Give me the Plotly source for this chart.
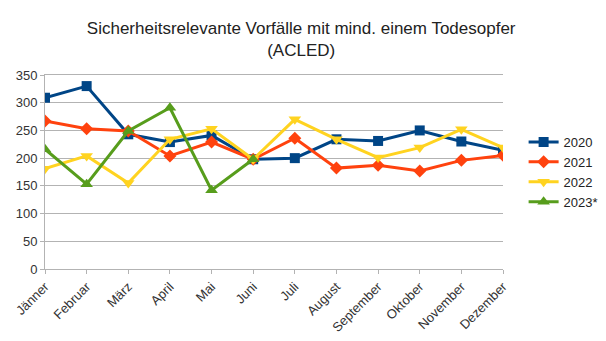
import plotly.graph_objects as go

months = ["Jänner", "Februar", "März", "April", "Mai", "Juni", "Juli",
          "August", "September", "Oktober", "November", "Dezember"]
y2020 = [309, 330, 243, 229, 241, 198, 200, 234, 231, 250, 230, 214]
y2021 = [267, 253, 249, 204, 229, 198, 236, 182, 187, 177, 196, 205]
y2022 = [181, 204, 155, 234, 253, 198, 270, 234, 201, 219, 252, 219]
y2023 = [216, 153, 249, 291, 142, 198]

series = [
    ("2020", y2020, "#004586", "square", 10),
    ("2021", y2021, "#ff420e", "diamond", 10),
    ("2022", y2022, "#ffd320", "triangle-down", 11),
    ("2023*", y2023, "#579d1c", "triangle-up", 11),
]

fig = go.Figure()
for name, ys, color, sym, sz in series:
    fig.add_trace(go.Scatter(
        x=months[:len(ys)], y=ys, name=name, mode="lines+markers",
        line=dict(color=color, width=3),
        marker=dict(symbol=sym, size=sz, color=color),
    ))

fig.update_layout(
    width=606, height=341,
    margin=dict(l=45, r=103, t=75, b=72, autoexpand=False),
    paper_bgcolor="white", plot_bgcolor="white",
    font=dict(family="Liberation Sans, Arial, sans-serif", color="#333333", size=12),
    title=dict(text="Sicherheitsrelevante Vorfälle mit mind. einem Todesopfer<br>(ACLED)",
               x=0.497, xanchor="center", y=0.90, yanchor="top",
               font=dict(size=17, color="#222222")),
    legend=dict(x=1.045, y=0.5, xanchor="left", yanchor="middle",
                font=dict(size=13, color="#222222"), tracegroupgap=0,
                itemwidth=30, bgcolor="rgba(0,0,0,0)"),
    showlegend=True,
)
fig.update_xaxes(type="category", categoryorder="array", categoryarray=months,
                 range=[0, 11], tickangle=-45, showgrid=False, automargin=False,
                 showline=True, linecolor="#b3b3b3", linewidth=1, mirror=True,
                 ticks="outside", ticklen=4, tickcolor="#b3b3b3",
                 tickfont=dict(size=13, color="#333333"))
fig.update_yaxes(range=[0, 350], dtick=50, showgrid=True, gridcolor="#b3b3b3",
                 showline=True, linecolor="#b3b3b3", linewidth=1, automargin=False,
                 ticks="outside", ticklen=4, tickcolor="#b3b3b3",
                 zeroline=False, tickfont=dict(size=13, color="#333333"))

fig.write_html("out.html")
